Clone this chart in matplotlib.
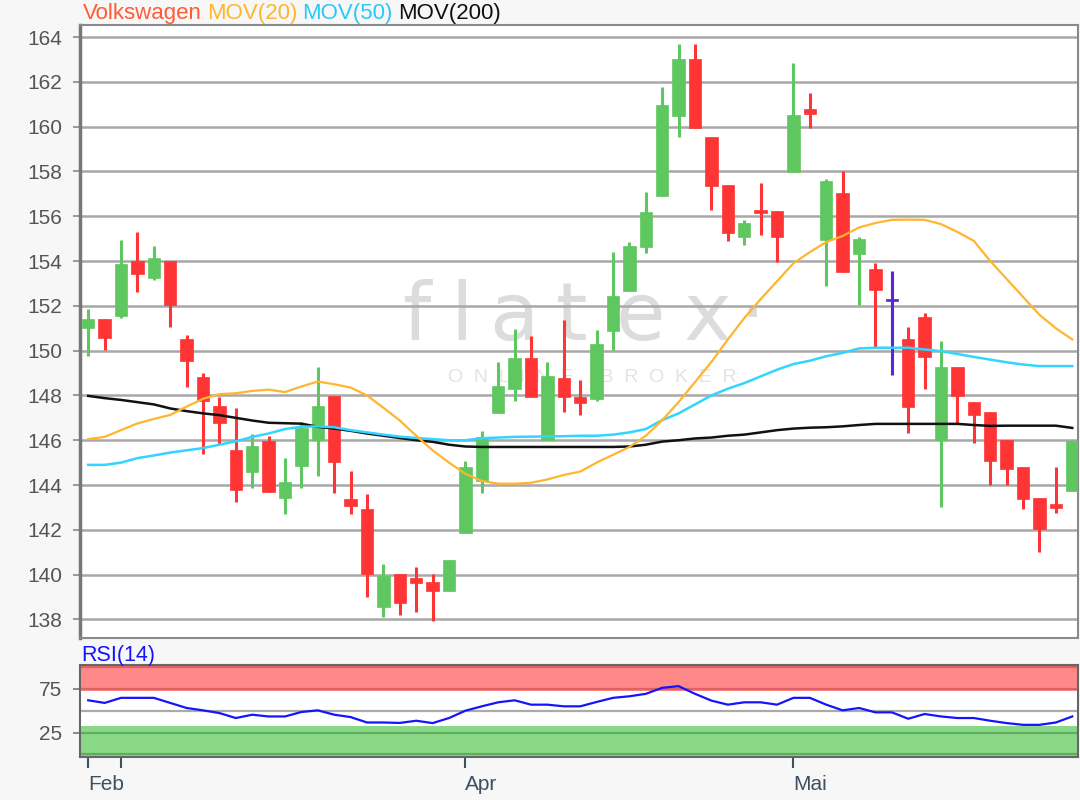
import matplotlib
matplotlib.use("Agg")
import matplotlib.pyplot as plt
import numpy as np

plt.rcParams['font.family'] = ['Liberation Sans', 'DejaVu Sans']

# ---------------- data ----------------
opens = [151.0, 151.4, 151.53, 154.0, 153.26, 154.0, 150.53, 148.81, 147.53, 145.55,
         144.6, 145.95, 143.4, 144.87, 146.0, 147.97, 143.36, 142.91, 138.55, 140.02,
         139.84, 139.69, 139.27, 141.86, 144.18, 147.23, 148.29, 149.68, 146.01, 148.76,
         147.95, 147.84, 150.87, 152.67, 154.65, 156.9, 160.49, 163.03, 159.55, 157.39,
         155.08, 156.30, 156.23, 157.99, 160.79, 154.93, 157.03, 154.30, 153.63, 152.27,
         150.5, 151.5, 146.03, 149.26, 147.71, 147.26, 146.03, 144.79, 143.42, 143.16,
         143.74]
highs = [151.86, 151.4, 154.95, 155.29, 154.68, 154.0, 150.69, 148.98, 147.95, 147.46,
         146.27, 146.2, 145.2, 146.83, 149.28, 147.97, 144.63, 143.61, 140.47, 140.02,
         140.32, 140.02, 140.66, 145.08, 146.43, 149.51, 150.95, 150.67, 149.51, 151.39,
         148.69, 150.92, 154.41, 154.86, 157.1, 161.79, 163.67, 163.67, 159.55, 157.39,
         155.85, 157.48, 156.23, 162.86, 161.52, 157.66, 158.0, 155.08, 153.93, 153.56,
         151.05, 151.66, 150.42, 149.26, 147.71, 147.26, 146.03, 144.79, 143.42, 144.79,
         146.0]
lows = [149.76, 150.03, 151.46, 152.62, 153.17, 151.07, 148.38, 145.40, 145.85, 143.25,
        143.86, 143.7, 142.69, 143.86, 144.42, 143.66, 142.69, 138.99, 138.12, 138.19,
        138.34, 137.93, 139.27, 141.86, 143.66, 147.23, 147.75, 147.95, 146.01, 147.28,
        147.13, 147.77, 150.03, 152.67, 154.38, 156.9, 159.56, 159.96, 156.26, 154.91,
        154.73, 155.18, 153.94, 157.99, 159.93, 152.89, 153.51, 152.04, 150.13, 148.93,
        146.32, 148.29, 143.0, 146.73, 145.88, 144.01, 144.01, 142.94, 140.99, 142.77,
        143.74]
closes = [151.4, 150.56, 153.85, 153.44, 154.12, 152.06, 149.56, 147.76, 146.77, 143.79,
          145.73, 143.7, 144.12, 146.53, 147.55, 145.04, 143.07, 140.02, 139.96, 138.75,
          139.61, 139.27, 140.66, 144.81, 146.13, 148.44, 149.68, 147.95, 148.87, 147.95,
          147.68, 150.29, 152.43, 154.66, 156.2, 160.98, 163.03, 159.96, 157.35, 155.26,
          155.69, 156.15, 155.08, 160.53, 160.56, 157.58, 153.51, 154.97, 152.71, 152.27,
          147.49, 149.72, 149.26, 147.96, 147.14, 145.09, 144.73, 143.39, 142.03, 142.97,
          145.98]

mov20 = [146.05, 146.15, 146.45, 146.75, 146.95, 147.13, 147.5, 147.85, 148.06, 148.1,
         148.2, 148.26, 148.15, 148.4, 148.62, 148.5, 148.35, 148.0, 147.45, 146.88,
         146.2, 145.55, 145.0, 144.5, 144.18, 144.06, 144.06, 144.1, 144.25, 144.45,
         144.6, 145.0, 145.35, 145.7, 146.2, 146.9, 147.7, 148.6, 149.5, 150.5,
         151.45, 152.3, 153.1, 153.9, 154.4, 154.85, 155.12, 155.5, 155.7, 155.84,
         155.85, 155.84, 155.65, 155.3, 154.9, 154.0, 153.2, 152.4, 151.6, 151.0,
         150.5]
mov50 = [144.9, 144.9, 145.0, 145.2, 145.32, 145.45, 145.55, 145.65, 145.8, 145.95,
         146.15, 146.3, 146.5, 146.6, 146.62, 146.58, 146.45, 146.35, 146.25, 146.16,
         146.1, 146.05, 146.0, 146.0, 146.09, 146.12, 146.15, 146.16, 146.17, 146.18,
         146.2, 146.2, 146.25, 146.35, 146.5, 146.9, 147.2, 147.6, 148.0, 148.3,
         148.55, 148.85, 149.15, 149.4, 149.55, 149.75, 149.9, 150.1, 150.13, 150.13,
         150.13, 150.05, 149.98, 149.85, 149.72, 149.6, 149.48, 149.38, 149.31, 149.31,
         149.31]
mov200 = [147.98, 147.88, 147.8, 147.7, 147.6, 147.42, 147.3, 147.2, 147.12, 147.0,
          146.88, 146.78, 146.76, 146.74, 146.6, 146.52, 146.42, 146.3, 146.2, 146.1,
          146.0, 145.93, 145.8, 145.72, 145.7, 145.7, 145.7, 145.7, 145.7, 145.7,
          145.7, 145.7, 145.7, 145.72, 145.8, 145.94, 146.0, 146.08, 146.12, 146.2,
          146.25, 146.35, 146.45, 146.52, 146.56, 146.58, 146.62, 146.68, 146.73, 146.73,
          146.73, 146.73, 146.73, 146.73, 146.68, 146.64, 146.65, 146.65, 146.65, 146.65,
          146.55]
rsi = [61.9, 58.9, 64.7, 64.7, 64.7, 58.9, 53.1, 50.4, 47.3, 41.6,
       45.4, 43.4, 43.4, 48.5, 50.4, 45.4, 42.7, 36.5, 36.5, 36.0,
       38.5, 35.8, 41.6, 50.0, 55.0, 59.6, 61.9, 56.9, 56.9, 55.0,
       55.0, 60.0, 64.7, 66.5, 69.3, 76.2, 78.1, 69.3, 61.5, 56.9,
       59.6, 59.6, 56.9, 64.7, 64.7, 56.9, 50.4, 53.1, 48.1, 48.1,
       40.8, 46.2, 43.4, 41.6, 41.6, 38.5, 35.8, 33.8, 33.8, 36.5,
       43.4]

price_ticks = list(range(138, 165, 2))
month_ticks = [0, 2, 23, 43]
month_labels = ['Feb', '', 'Apr', 'Mai']
rsi_ticks = [25, 75]
title_parts = ['Volkswagen', 'MOV(20)', 'MOV(50)', 'MOV(200)']
title_colors = ['#ff5b35', '#ffb52e', '#29c8f5', '#111111']
wm_letters = ['f', 'l', 'a', 't', 'e', 'x', '·']
wm_xpix = [416, 462, 514, 572, 640, 707, 752]

# ---------------- figure ----------------
BG = '#f7f7f7'
fig = plt.figure(figsize=(10.8, 8.0), dpi=100, facecolor=BG)
ax = fig.add_axes([80/1080, 1-638/800, 998/1080, 613/800])
ax2 = fig.add_axes([80/1080, 1-757/800, 998/1080, 92/800])

GREEN = '#5fc75f'
RED = '#ff3434'
PURPLE = '#5a24d8'

n = len(opens)
x = np.arange(n)
o = np.array(opens); c = np.array(closes); h = np.array(highs); l = np.array(lows)
cols = []
for oi, ci in zip(o, c):
    if abs(ci - oi) < 1e-9:
        cols.append(PURPLE)
    elif ci > oi:
        cols.append(GREEN)
    else:
        cols.append(RED)

ax.vlines(x, l, h, colors=cols, linewidth=2.2, zorder=3)
bottoms = np.minimum(o, c)
heights = np.maximum(np.abs(c - o), 0.09)
bottoms = np.where(np.abs(c - o) < 0.09, (o + c) / 2 - 0.045, bottoms)
ax.bar(x, heights, bottom=bottoms, width=0.76, color=cols, edgecolor=cols,
       linewidth=0.5, zorder=4)

ax.plot(x, mov200, color='#111111', lw=1.8, zorder=5)
ax.plot(x, mov50, color='#33d4ff', lw=1.8, zorder=5)
ax.plot(x, mov20, color='#ffb52e', lw=1.6, zorder=5)

ax.set_xlim(-0.5, 60.35)
ax.set_ylim(137.17, 164.54)
ax.set_yticks(price_ticks)
ax.set_yticklabels([str(t) for t in price_ticks])
ax.grid(axis='y', color='#a8a8a8', lw=1.8, zorder=1)
ax.set_axisbelow(True)
ax.tick_params(axis='y', length=5, width=1.2, color='#888888', labelcolor='#555555',
               labelsize=15, pad=8)
ax.tick_params(axis='x', length=0, labelbottom=False)
ax.set_facecolor('white')
for s in ['top', 'right', 'bottom']:
    ax.spines[s].set_color('#8a8a8a')
    ax.spines[s].set_linewidth(1.5)
ax.spines['left'].set_color('#777777')
ax.spines['left'].set_linewidth(2.5)

# watermark (letters placed individually, light grey, behind everything)
for ch, xp in zip(wm_letters, wm_xpix):
    ax.text((xp - 80) / 998, (638 - 340) / 613, ch, transform=ax.transAxes,
            ha='center', va='baseline', fontsize=58, color='#dcdcdc',
            family=['DejaVu Sans'], zorder=0.2)
ax.text((592 - 80) / 998, (638 - 378) / 613, 'O  N  L  I  N  E     B  R  O  K  E  R',
        transform=ax.transAxes, ha='center', va='center', fontsize=14,
        color='#e3e3e3', zorder=0.2)

# title pieces, placed one after another
fig.canvas.draw()
renderer = fig.canvas.get_renderer()
tx = 83
ty = 1 - 14/800
for part, colr in zip(title_parts, title_colors):
    t = fig.text(tx/1080, ty, part, color=colr, fontsize=16, va='center')
    bb = t.get_window_extent(renderer=renderer)
    tx = bb.x1 + 5

# ---------------- RSI panel ----------------
ax2.set_facecolor('white')
ax2.axhspan(72.5, 103, color='#ff8888', lw=0, zorder=1)
ax2.axhspan(-4, 32.7, color='#88d888', lw=0, zorder=1)
ax2.axhline(100, color='#dd6262', lw=1.6, zorder=2)
ax2.axhline(75, color='#dd6262', lw=1.6, zorder=2)
ax2.axhline(25, color='#5eae5e', lw=1.6, zorder=2)
ax2.axhline(0, color='#5eae5e', lw=1.6, zorder=2)
ax2.axhline(50, color='#aaaaaa', lw=1.6, zorder=2)
ax2.plot(x, rsi, color='#1414ff', lw=1.6, zorder=3)
ax2.set_xlim(-0.5, 60.35)
ax2.set_ylim(-3, 102.3)
ax2.set_yticks(rsi_ticks)
ax2.set_yticklabels([str(t) for t in rsi_ticks])
ax2.tick_params(axis='y', length=5, width=1.2, color='#777777', labelcolor='#555555',
                labelsize=15, pad=8)
ax2.set_xticks(month_ticks)
ax2.set_xticklabels(month_labels)
ax2.tick_params(axis='x', length=8, width=1.5, color='#40505e', labelcolor='#40505e',
                labelsize=15, pad=5)
for lab in ax2.get_xticklabels():
    lab.set_horizontalalignment('left')
for s in ax2.spines.values():
    s.set_color('#666666')
    s.set_linewidth(1.5)

fig.text(81/1080, 1 - 655/800, 'RSI(14)', color='#1414ff', fontsize=15.5, va='center')

fig.savefig('out.png', dpi=100, facecolor=BG)
